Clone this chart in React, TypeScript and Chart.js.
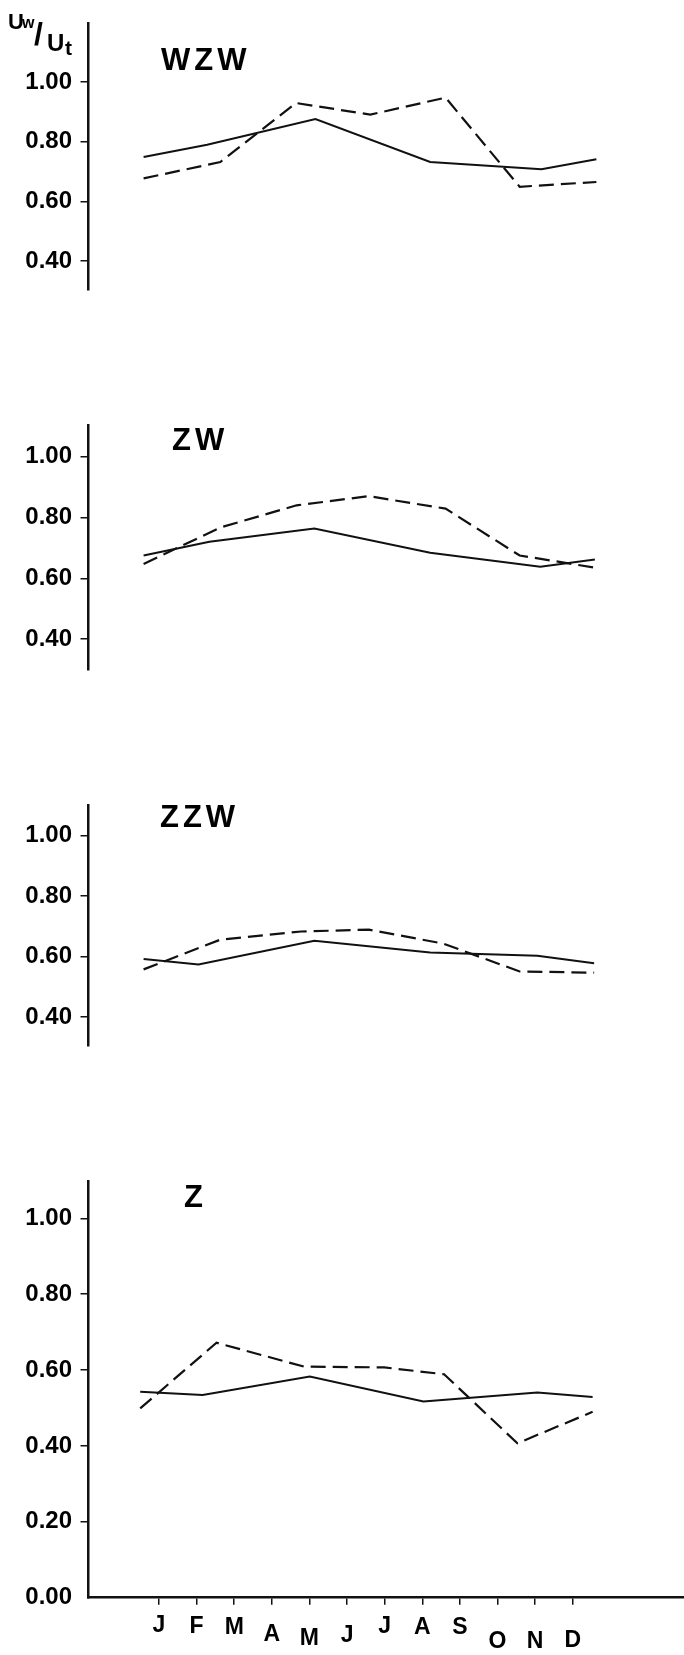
import React, { useEffect, useRef } from "react";
import { Chart, registerables } from "chart.js";

Chart.register(...registerables);

// ---- data ----
const monthLabels = ["J", "F", "M", "A", "M", "J", "J", "A", "S", "O", "N", "D"];
const monthTicks = [1, 2, 3, 4, 5, 6, 7, 8, 9, 10, 11, 12];
const yTicksUpper = [0.4, 0.6, 0.8, 1.0];
const yTicksLower = [0.0, 0.2, 0.4, 0.6, 0.8, 1.0];

const wzwSolidX = [0.59, 2.28, 5.16, 8.21, 11.17, 12.63];
const wzwSolidY = [0.749, 0.79, 0.876, 0.732, 0.708, 0.741];
const wzwDashX = [0.59, 2.63, 4.64, 6.62, 8.62, 10.59, 12.63];
const wzwDashY = [0.677, 0.732, 0.93, 0.891, 0.948, 0.649, 0.665];

const zwSolidX = [0.59, 2.34, 5.13, 8.21, 11.14, 12.59];
const zwSolidY = [0.675, 0.72, 0.764, 0.684, 0.638, 0.662];
const zwDashX = [0.59, 2.63, 4.66, 6.58, 8.62, 10.59, 12.59];
const zwDashY = [0.647, 0.767, 0.84, 0.87, 0.829, 0.675, 0.635];

const zzwSolidX = [0.59, 2.05, 5.13, 8.21, 11.06, 12.57];
const zzwSolidY = [0.592, 0.574, 0.652, 0.614, 0.603, 0.578];
const zzwDashX = [0.59, 2.63, 4.78, 6.58, 8.56, 10.59, 12.57];
const zzwDashY = [0.558, 0.656, 0.683, 0.689, 0.643, 0.551, 0.547];

const zSolidX = [0.5, 2.16, 5.01, 8.03, 11.06, 12.53];
const zSolidY = [0.543, 0.534, 0.583, 0.517, 0.541, 0.529];
const zDashX = [0.5, 2.53, 4.86, 6.99, 8.58, 10.53, 12.53];
const zDashY = [0.499, 0.672, 0.609, 0.607, 0.589, 0.407, 0.49];

const panelNames = ["WZW", "ZW", "ZZW", "Z"];

const FONT = "'Liberation Sans', Arial, Helvetica, sans-serif";

const toPts = (xs: number[], ys: number[]) => xs.map((x, i) => ({ x, y: ys[i] }));

type PanelCfg = {
  top: number;
  h: number;
  padTop: number;
  padBottom: number;
  yMin: number;
  yMax: number;
  yTicks: number[];
  showX: boolean;
  solid: { x: number; y: number }[];
  dash: { x: number; y: number }[];
};

const panels: PanelCfg[] = [
  { top: 0, h: 360, padTop: 5, padBottom: 13.3, yMin: 0.3047, yMax: 1.1987, yTicks: yTicksUpper, showX: false, solid: toPts(wzwSolidX, wzwSolidY), dash: toPts(wzwDashX, wzwDashY) },
  { top: 380, h: 360, padTop: 45, padBottom: 13.3, yMin: 0.3005, yMax: 1.104, yTicks: yTicksUpper, showX: false, solid: toPts(zwSolidX, zwSolidY), dash: toPts(zwDashX, zwDashY) },
  { top: 760, h: 360, padTop: 45, padBottom: 17, yMin: 0.306, yMax: 1.1005, yTicks: yTicksUpper, showX: false, solid: toPts(zzwSolidX, zzwSolidY), dash: toPts(zzwDashX, zzwDashY) },
  { top: 1140, h: 515, padTop: 41.7, padBottom: 0, yMin: 0, yMax: 1.0965, yTicks: yTicksLower, showX: true, solid: toPts(zSolidX, zSolidY), dash: toPts(zDashX, zDashY) },
];

// per-label line heights used to stagger the month letters downward
const monthLineHeights = [34.6, 36, 37.6, 52.6, 59.2, 54.6, 36, 37.6, 37.6, 66, 66, 64.6];

function Panel({ cfg }: { cfg: PanelCfg }) {
  const ref = useRef<HTMLCanvasElement>(null);
  useEffect(() => {
    const chart = new Chart(ref.current as HTMLCanvasElement, {
      type: "line",
      data: {
        datasets: [
          {
            data: cfg.solid,
            borderColor: "#111",
            borderWidth: 2,
            pointRadius: 0,
            tension: 0,
            fill: false,
          },
          {
            data: cfg.dash,
            borderColor: "#111",
            borderWidth: 2.2,
            borderDash: [15, 7],
            pointRadius: 0,
            tension: 0,
            fill: false,
          },
        ],
      },
      options: {
        animation: false,
        responsive: false,
        devicePixelRatio: 1,
        events: [],
        layout: { padding: { top: cfg.padTop, bottom: cfg.padBottom, left: 0, right: 0 } },
        plugins: { legend: { display: false }, tooltip: { enabled: false }, title: { display: false } },
        scales: {
          x: {
            type: "linear",
            min: -0.875,
            max: 14.96,
            display: cfg.showX,
            afterBuildTicks: (scale: any) => {
              scale.ticks = monthTicks.map((v) => ({ value: v }));
            },
            afterFit: (scale: any) => {
              scale.height = 57.3;
            },
            grid: {
              display: true,
              drawOnChartArea: false,
              drawTicks: true,
              tickLength: 7,
              color: "#111",
              lineWidth: 1.5,
            },
            border: { display: true, color: "#111", width: 2.5 },
            ticks: {
              autoSkip: false,
              maxRotation: 0,
              minRotation: 0,
              padding: 4,
              color: "#000",
              callback: (_v: any, i: number) => monthLabels[i],
              font: (ctx: any) => ({
                family: FONT,
                size: 23,
                weight: "bold",
                lineHeight: (monthLineHeights[ctx.index] ?? 36) / 23,
              }),
            },
          },
          y: {
            type: "linear",
            position: "left",
            min: cfg.yMin,
            max: cfg.yMax,
            afterBuildTicks: (scale: any) => {
              scale.ticks = cfg.yTicks.map((v) => ({ value: v }));
            },
            afterFit: (scale: any) => {
              scale.width = 88.5;
            },
            grid: {
              display: true,
              drawOnChartArea: false,
              drawTicks: true,
              tickLength: 8,
              color: (ctx: any) => (ctx.tick && ctx.tick.value === 0 ? "rgba(0,0,0,0)" : "#111"),
              lineWidth: 1.5,
            },
            border: { display: true, color: "#111", width: 2.5 },
            ticks: {
              padding: 8.5,
              color: "#000",
              callback: (v: any) => Number(v).toFixed(2),
              font: { family: FONT, size: 24, weight: "bold" },
            },
          },
        },
      },
    } as any);
    return () => chart.destroy();
  }, [cfg]);
  return (
    <canvas
      ref={ref}
      width={684}
      height={cfg.h}
      style={{ position: "absolute", left: 0, top: cfg.top, width: 684, height: cfg.h, display: "block" }}
    />
  );
}

function Txt({ text, x, baseline, size, spacing = 0 }: { text: string; x: number; baseline: number; size: number; spacing?: number }) {
  return (
    <span
      style={{
        position: "absolute",
        left: x,
        top: baseline - 0.8465 * size,
        fontFamily: FONT,
        fontWeight: "bold",
        fontSize: size,
        lineHeight: `${size}px`,
        letterSpacing: spacing,
        whiteSpace: "nowrap",
        color: "#000",
      }}
    >
      {text}
    </span>
  );
}

const titlePos = [
  { x: 161, baseline: 70 },
  { x: 172, baseline: 450 },
  { x: 160, baseline: 827 },
  { x: 184, baseline: 1207 },
];

export default function App() {
  return (
    <div style={{ position: "absolute", left: 0, top: 0, width: 684, height: 1655, background: "#fff", overflow: "hidden" }}>
      {panels.map((p, i) => (
        <Panel key={i} cfg={p} />
      ))}
      {panelNames.map((n, i) => (
        <Txt key={n} text={n} x={titlePos[i].x} baseline={titlePos[i].baseline} size={31} spacing={4} />
      ))}
      {/* axis quantity label Uw/Ut */}
      <Txt text="U" x={8} baseline={30} size={22} />
      <Txt text="w" x={22} baseline={29} size={16} />
      <Txt text="/" x={34} baseline={45} size={32} />
      <Txt text="U" x={47} baseline={51} size={24} />
      <Txt text="t" x={65} baseline={55} size={21} />
    </div>
  );
}
